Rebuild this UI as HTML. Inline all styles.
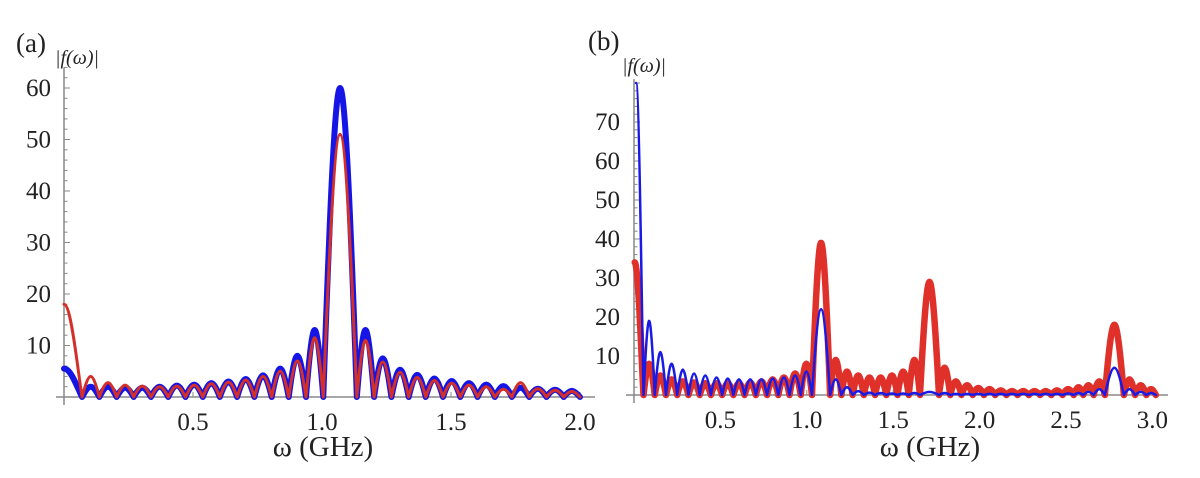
<!DOCTYPE html>
<html><head><meta charset="utf-8"><style>
html,body{margin:0;padding:0;background:#fff;}
svg, svg text{font-family:"Liberation Serif","Times New Roman",serif;}
</style></head><body>
<svg id="chart" width="1200" height="473" viewBox="0 0 1200 473"></svg>
<script>
// ---------- Panel (a) data ----------
const aTicksX = [0.5, 1.0, 1.5, 2.0];
const aTickLabelsX = ["0.5", "1.0", "1.5", "2.0"];
const aTicksY = [10, 20, 30, 40, 50, 60];
const aZeros = [0.07,0.137,0.204,0.270,0.337,0.404,0.471,0.538,0.604,0.671,0.738,0.805,0.871,0.938,1.005,1.135,1.202,1.269,1.336,1.402,1.469,1.536,1.603,1.670,1.736,1.803,1.870,1.937,2.0];
const aBlueStart = [0, 5.5];
const aRedStart = [0, 18];
const aBlueHeights = [2,2,1.8,1.8,2,2.2,2.4,2.7,3,3.5,4.2,5.5,8,13,60,13,7.5,5.3,4.3,3.6,3.1,2.7,2.4,2.1,1.8,1.6,1.4,1.2];
const aRedHeights = [4,2.8,2.3,2.1,2,2.1,2.3,2.6,2.9,3.3,4,5,7,11.5,51,11,6.8,4.8,3.8,3.2,2.7,2.3,2,1.5,2.8,1.6,1.3,1.1];

// ---------- Panel (b) data ----------
const bTicksX = [0.5, 1.0, 1.5, 2.0, 2.5, 3.0];
const bTickLabelsX = ["0.5", "1.0", "1.5", "2.0", "2.5", "3.0"];
const bTicksY = [10, 20, 30, 40, 50, 60, 70];
const bZeros = [0.055,0.12,0.185,0.25,0.315,0.38,0.445,0.51,0.575,0.64,0.705,0.77,0.835,0.9,0.965,1.03,1.135,1.2,1.265,1.33,1.395,1.46,1.525,1.59,1.655,1.765,1.83,1.895,1.96,2.025,2.09,2.155,2.22,2.285,2.35,2.415,2.48,2.545,2.6,2.66,2.725,2.835,2.9,2.965,3.02];
const bBlueStart = [0.012, 80];
const bRedStart = [0.004, 34];
const bBlueHeights = [19,11,8,6.5,5.5,5,4.5,4.2,4,4,4,4.2,4.5,5,6,22,4,2,1,0.6,0.5,0.4,0.4,0.5,0.8,0.5,0.3,0.3,0.3,0.3,0.3,0.3,0.3,0.3,0.3,0.3,0.4,0.5,0.8,1.5,7,1.5,0.8,0.5];
const bRedHeights = [8,5,4,3.5,3.2,3,3,3,3,3.2,3.5,4,4.5,5.5,8,39,9,6,5,4.5,4.5,5,6,9,29,7,3.5,2.5,1.8,1.5,1.2,1,1,1,1,1.2,1.5,2,2.5,3.5,18,4,2.5,1.5];

const NS = "http://www.w3.org/2000/svg";
const FONT = "Liberation Serif, serif";
const svg = document.getElementById("chart");
function mk(tag, attrs, parent) {
  const e = document.createElementNS(NS, tag);
  for (const k in attrs) e.setAttribute(k, attrs[k]);
  if (tag === "text") e.setAttribute("font-family", FONT);
  (parent || svg).appendChild(e);
  return e;
}

function curvePath(sx, sy, zeros, heights, start) {
  let d = "M" + sx(start[0]) + "," + sy(start[1]);
  const z0 = zeros[0];
  d += " C" + sx(start[0] + (z0 - start[0]) * 0.4) + "," + sy(start[1]) + " " +
       sx(start[0] + (z0 - start[0]) * 0.75) + "," + sy(start[1] * 0.3) + " " + sx(z0) + "," + sy(0);
  for (let i = 0; i < heights.length && i + 1 < zeros.length; i++) {
    const a = zeros[i], b = zeros[i + 1], h = heights[i];
    const m = (a + b) / 2, hw = (b - a) / 2;
    d += " C" + sx(a + 0.326 * hw) + "," + sy(0.5125 * h) + " " + sx(m - 0.326 * hw) + "," + sy(h) + " " + sx(m) + "," + sy(h);
    d += " C" + sx(m + 0.326 * hw) + "," + sy(h) + " " + sx(b - 0.326 * hw) + "," + sy(0.5125 * h) + " " + sx(b) + "," + sy(0);
  }
  return d;
}

function panel(cfg) {
  const g = mk("g", {});
  
  
  const sx = v => cfg.x0 + v * cfg.kx;
  const sy = v => cfg.y0 - v * cfg.ky;
  const xa = mk("line", {x1: cfg.x0 - 8, y1: cfg.y0, x2: cfg.xEnd, y2: cfg.y0, stroke: "#888", "stroke-width": 1.5}, g);
  
  
  const ya = mk("line", {x1: cfg.x0, y1: cfg.y0 + 8, x2: cfg.x0, y2: sy(cfg.yTop), stroke: "#888", "stroke-width": 1.5}, g);
  
  
  for (let v = 2; v <= cfg.yTop; v += 2) {
    const t = mk("line", {x1: cfg.x0, y1: sy(v), x2: cfg.x0 + (v % 10 === 0 ? 6 : 3.5), y2: sy(v), stroke: "#888", "stroke-width": 1}, g);
    
    
  }
  cfg.ticksY.forEach(v => {
    const t = mk("text", {x: cfg.x0 - cfg.yLabelGap, y: sy(v) + 8, "text-anchor": "end", "font-size": 25, fill: "#222"}, g);
    t.textContent = String(v);
    
    
  });
  cfg.ticksX.forEach((v, i) => {
    const tk = mk("line", {x1: sx(v), y1: cfg.y0, x2: sx(v), y2: cfg.y0 - 5, stroke: "#888", "stroke-width": 1}, g);
    
    
    const t = mk("text", {x: sx(v), y: cfg.y0 + 33, "text-anchor": "middle", "font-size": 25, fill: "#222"}, g);
    t.textContent = cfg.tickLabelsX[i];
    
    
  });
  const tt = mk("text", {x: cfg.titleX, y: 456, "text-anchor": "middle", "font-size": 29, fill: "#222"}, g);
  tt.textContent = "ω (GHz)";
  
  
  const pl = mk("text", {x: cfg.labelX, y: cfg.labelY, "font-size": 27, fill: "#222"}, g);
  pl.textContent = cfg.label;
  
  
  const yt = mk("text", {x: cfg.yTitleX, y: cfg.yTitleY, "font-size": 20, fill: "#222", "font-style": "italic"}, g);
  yt.textContent = "|f(ω)|";
  
  
  cfg.series.forEach(s => {
    const p = mk("path", {d: curvePath(sx, sy, cfg.zeros, s.heights, s.start), fill: "none", stroke: s.color, "stroke-width": s.w, "stroke-linejoin": "round", "stroke-linecap": "round"}, g);
    
    
  });
}

panel({name: "panel-a", x0: 64, kx: 258, y0: 397, ky: 5.15, yTop: 64, xEnd: 595,
  ticksX: aTicksX, tickLabelsX: aTickLabelsX, ticksY: aTicksY, yLabelGap: 13, titleX: 323,
  label: "(a)", labelX: 16, labelY: 52, yTitleX: 55, yTitleY: 64, zeros: aZeros,
  series: [
    {name: "blue-series-a", heights: aBlueHeights, start: aBlueStart, color: "#1515e6", w: 6},
    {name: "red-series-a", heights: aRedHeights, start: aRedStart, color: "#d4302a", w: 3}
  ]});

panel({name: "panel-b", x0: 634, kx: 172.8, y0: 395, ky: 3.9, yTop: 81, xEnd: 1168,
  ticksX: bTicksX, tickLabelsX: bTickLabelsX, ticksY: bTicksY, yLabelGap: 14, titleX: 930,
  label: "(b)", labelX: 588, labelY: 50, yTitleX: 622, yTitleY: 72, zeros: bZeros,
  series: [
    {name: "red-series-b", heights: bRedHeights, start: bRedStart, color: "#e0302a", w: 6.5},
    {name: "blue-series-b", heights: bBlueHeights, start: bBlueStart, color: "#1a1ae6", w: 2.5}
  ]});
</script>
</body></html>
